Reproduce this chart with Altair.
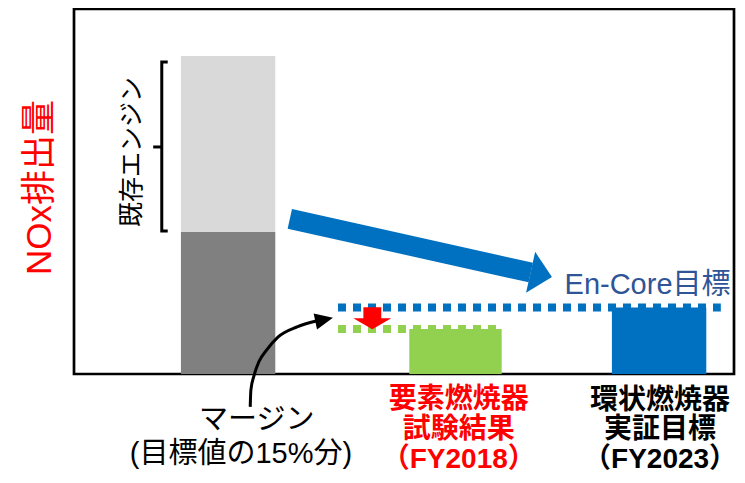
import altair as alt
import pandas as pd

FONT = "'Liberation Sans', 'Noto Sans CJK JP', sans-serif"

# ---- data (chart coordinate space: x 0-100 across the frame, y 0-100 NOx level) ----
bar_names = ["既存エンジン(低減分)", "既存エンジン(基部)", "要素燃焼器試験結果", "環状燃焼器実証目標"]
bar_x0 = [16.2, 16.2, 50.8, 81.5]
bar_x1 = [30.5, 30.5, 64.8, 95.8]
bar_y0 = [38.9, 0.0, 0.0, 0.0]
bar_y1 = [87.1, 38.9, 12.3, 18.2]
bar_colors = ["#D9D9D9", "#808080", "#92D050", "#0070C0"]

line_names = ["En-Core目標", "試験結果"]
line_x0 = [40.0, 40.0]
line_x1 = [98.0, 64.8]
line_y = [18.2, 12.3]
line_colors = ["#0070C0", "#92D050"]

# big blue trend arrow
trend_x = [32.7, 69.2]
trend_y = [42.5, 27.8]
trend_head_x = [70.8]
trend_head_y = [27.2]

# red margin arrow
red_x = [45.2]
red_y = [15.3]

# curved margin pointer
curve_x = [26.7, 26.8, 27.3, 28.0, 29.2, 30.9, 33.8, 36.7]
curve_y = [-9.0, -4.4, -0.3, 3.3, 6.6, 10.1, 12.9, 14.5]
curve_head_x = [37.9]
curve_head_y = [14.9]

# bracket for existing engine
bracket_x = [14.2, 13.3, 13.3, 14.2]
bracket_y = [85.5, 85.5, 39.2, 39.2]
nub_x = [12.0, 13.3]
nub_y = [62.2, 62.2]

# texts
label_text = ["要素燃焼器", "試験結果", "（FY2018）", "環状燃焼器", "実証目標", "（FY2023）"]
label_x = [58.3, 58.3, 58.3, 88.8, 88.8, 88.8]
label_y = [-7.1, -15.3, -23.6, -7.4, -15.3, -23.6]
label_color = ["#FF0000", "#FF0000", "#FF0000", "#000000", "#000000", "#000000"]

margin_text = ["マージン", "(目標値の15%分)"]
margin_x = [27.7, 25.3]
margin_y = [-12.6, -21.9]

existing_text = ["既存エンジン"]
existing_x = [8.8]
existing_y = [60.8]

target_text = ["En-Core目標"]
target_x = [86.9]
target_y = [24.4]

ytitle_text = ["NOx排出量"]
ytitle_x = [-5.15]
ytitle_y = [51.1]

xs = alt.Scale(domain=[0, 100], nice=False, zero=False)
ys = alt.Scale(domain=[0, 100], nice=False, zero=False)


def X(f):
    return alt.X(f, scale=xs, axis=None)


def Y(f):
    return alt.Y(f, scale=ys, axis=None)


bars_df = pd.DataFrame({"name": bar_names, "x0": bar_x0, "x1": bar_x1, "y0": bar_y0, "y1": bar_y1, "c": bar_colors})
bars = alt.Chart(bars_df).mark_rect().encode(
    x=X("x0:Q"), x2="x1:Q", y=Y("y0:Q"), y2="y1:Q",
    color=alt.Color("c:N", scale=None),
)

lines_df = pd.DataFrame({"name": line_names, "x0": line_x0, "x1": line_x1, "y": line_y, "c": line_colors})
lines = alt.Chart(lines_df).mark_rule(strokeWidth=8, strokeDash=[8, 7], strokeCap="butt").encode(
    x=X("x0:Q"), x2="x1:Q", y=Y("y:Q"),
    color=alt.Color("c:N", scale=None),
)

trend_df = pd.DataFrame({"x": [trend_x[0]], "x2": [trend_x[1]], "y": [trend_y[0]], "y2": [trend_y[1]]})
trend = alt.Chart(trend_df).mark_rule(strokeWidth=20, color="#0070C0", strokeCap="butt").encode(
    x=X("x:Q"), x2="x2:Q", y=Y("y:Q"), y2="y2:Q",
)
trend_head = alt.Chart(pd.DataFrame({"x": trend_head_x, "y": trend_head_y})).mark_point(
    shape="M-0.52,-1L0.52,0L-0.52,1Z", size=1764, filled=True, opacity=1, strokeWidth=0,
    color="#0070C0", angle=12.5,
).encode(x=X("x:Q"), y=Y("y:Q"))

red_arrow = alt.Chart(pd.DataFrame({"x": red_x, "y": red_y})).mark_point(
    shape="M-0.47,-0.58L0.47,-0.58L0.47,0L1,0L0,0.58L-1,0L-0.47,0Z", size=1444, filled=True,
    opacity=1, strokeWidth=0, color="#FF0000",
).encode(x=X("x:Q"), y=Y("y:Q"))

curve_df = pd.DataFrame({"x": curve_x, "y": curve_y, "o": list(range(len(curve_x)))})
curve = alt.Chart(curve_df).mark_line(color="black", strokeWidth=3, interpolate="monotone").encode(
    x=X("x:Q"), y=Y("y:Q"), order="o:Q",
)
curve_head = alt.Chart(pd.DataFrame({"x": curve_head_x, "y": curve_head_y})).mark_point(
    shape="M-1,-0.9L1,0L-1,0.9Z", size=324, filled=True, opacity=1, strokeWidth=0,
    color="black", angle=348,
).encode(x=X("x:Q"), y=Y("y:Q"))

bracket_df = pd.DataFrame({"x": bracket_x, "y": bracket_y, "o": list(range(len(bracket_x)))})
bracket = alt.Chart(bracket_df).mark_line(color="black", strokeWidth=3, strokeJoin="miter").encode(
    x=X("x:Q"), y=Y("y:Q"), order="o:Q",
)
nub = alt.Chart(pd.DataFrame({"x": [nub_x[0]], "x2": [nub_x[1]], "y": nub_y[:1]})).mark_rule(
    color="black", strokeWidth=3).encode(
    x=X("x:Q"), x2="x2:Q", y=Y("y:Q"),
)

labels_df = pd.DataFrame({"t": label_text, "x": label_x, "y": label_y, "c": label_color})
labels = alt.Chart(labels_df).mark_text(fontSize=28, fontWeight="bold", font=FONT, align="center",
                                          baseline="middle").encode(
    x=X("x:Q"), y=Y("y:Q"), text="t:N", color=alt.Color("c:N", scale=None),
)

margin_df = pd.DataFrame({"t": margin_text, "x": margin_x, "y": margin_y})
margin = alt.Chart(margin_df).mark_text(fontSize=29, font=FONT, align="center", baseline="middle",
                                          color="black").encode(
    x=X("x:Q"), y=Y("y:Q"), text="t:N",
)

existing = alt.Chart(pd.DataFrame({"t": existing_text, "x": existing_x, "y": existing_y})).mark_text(
    fontSize=25, font=FONT, align="center", baseline="middle", angle=270, color="black").encode(
    x=X("x:Q"), y=Y("y:Q"), text="t:N",
)

target = alt.Chart(pd.DataFrame({"t": target_text, "x": target_x, "y": target_y})).mark_text(
    fontSize=29, font=FONT, align="center", baseline="middle", color="#2F5597").encode(
    x=X("x:Q"), y=Y("y:Q"), text="t:N",
)

ytitle = alt.Chart(pd.DataFrame({"t": ytitle_text, "x": ytitle_x, "y": ytitle_y})).mark_text(
    fontSize=35, font=FONT, align="center", baseline="middle", angle=270, color="#FF0000").encode(
    x=X("x:Q"), y=Y("y:Q"), text="t:N",
)

chart = alt.layer(
    bars, lines, trend, trend_head, red_arrow, curve, curve_head, bracket, nub,
    labels, margin, existing, target, ytitle,
).properties(
    width=660, height=365,
    autosize=alt.AutoSizeParams(type="none"),
    padding={"left": 66, "top": 1, "right": 3, "bottom": 101},
).configure(font=FONT).configure_view(stroke="black", strokeWidth=2.7)

chart.save("out.html", embed_options={"renderer": "svg", "actions": False})
